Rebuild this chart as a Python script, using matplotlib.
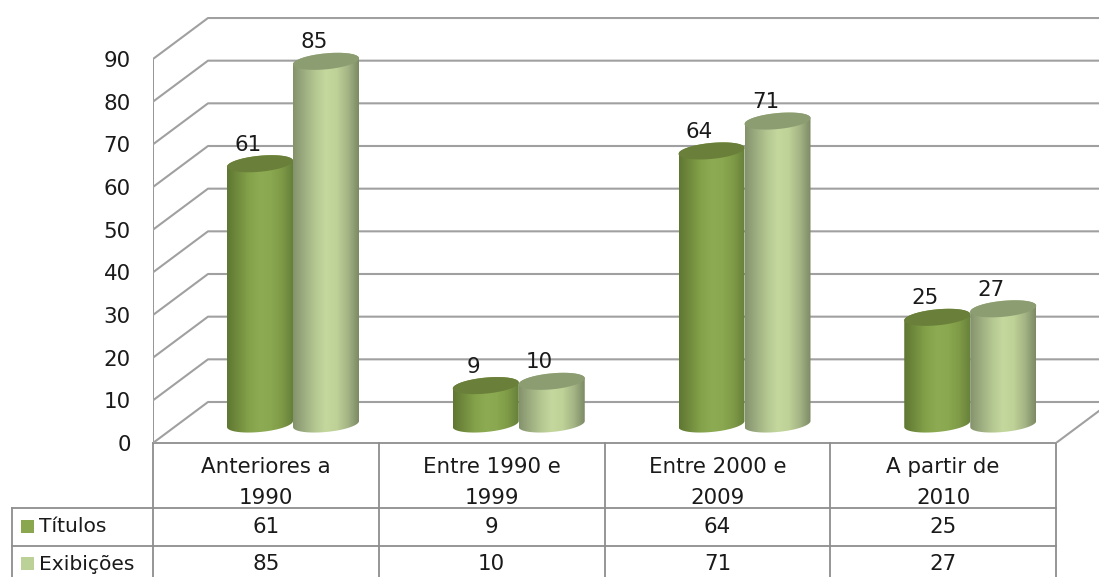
import numpy as np
import matplotlib.pyplot as plt
from matplotlib.colors import LinearSegmentedColormap
from matplotlib.patches import Polygon, Rectangle

plt.rcParams['font.family'] = ['DejaVu Sans']

categories = ['Anteriores a\n1990', 'Entre 1990 e\n1999', 'Entre 2000 e\n2009', 'A partir de\n2010']
series_names = ['Títulos', 'Exibições']
titulos = [61, 9, 64, 25]
exibicoes = [85, 10, 71, 27]
yticks = [0, 10, 20, 30, 40, 50, 60, 70, 80, 90]

W, H = 1099, 577
grid_col = '#a0a0a0'
table_col = '#8e8e8e'
text_col = '#1a1a1a'
fs = 15.4

# bar styles: swatch, top ellipse, side gradient
swatch = ['#8aa64e', '#bcd197']
top_col = ['#6a7f3a', '#8c9d72']
side = [['#5f7732', '#728c3e', '#84a24a', '#8dab52', '#8aa84f', '#7e9a46', '#66803a'],
        ['#85936d', '#9dad80', '#b4c791', '#c4d89e', '#bed197', '#a5b585', '#7d8a65']]

fig = plt.figure(figsize=(W / 100, H / 100), dpi=100)

# table and legend in pixel coordinates
tab = fig.add_axes([0, 0, 1, 1])
tab.set_xlim(0, W)
tab.set_ylim(H, 0)
tab.axis('off')

col_x = np.linspace(153, 1056, len(categories) + 1)
col_mid = (col_x[:-1] + col_x[1:]) / 2
row_y = [443, 508, 546]
tab.plot([153, 1056], [row_y[0]] * 2, color=table_col, lw=1.3)
for y in row_y[1:]:
    tab.plot([12, 1056], [y, y], color=table_col, lw=1.3)
for x in col_x:
    tab.plot([x, x], [443, H], color=table_col, lw=1.3)
tab.plot([12, 12], [508, H], color=table_col, lw=1.3)

for x, c in zip(col_mid, categories):
    a, b = c.split('\n')
    tab.text(x, 467, a, ha='center', va='center', fontsize=fs, color=text_col)
    tab.text(x, 498, b, ha='center', va='center', fontsize=fs, color=text_col)

for r, (name, vals) in enumerate(zip(series_names, [titulos, exibicoes])):
    yc = [527, 564][r]
    tab.add_patch(Rectangle((21, yc - 7), 13, 13, color=swatch[r], lw=0))
    tab.text(39, yc, name, ha='left', va='center', fontsize=fs - 0.8, color=text_col)
    for x, v in zip(col_mid, vals):
        tab.text(x, yc, str(v), ha='center', va='center', fontsize=fs, color=text_col)

# main plot, x in categories, y in values
px_per_cat = (col_x[1] - col_x[0])
px_per_val = (443 - 59) / 90
ax = fig.add_axes([153 / W, (H - 443) / H, (W - 153) / W, (443 - 17) / H])
ax.patch.set_alpha(0)
ax.set_xlim(0, (W - 153) / px_per_cat)
ax.set_ylim(0, (443 - 17) / px_per_val)
for s in ax.spines.values():
    s.set_visible(False)
ax.set_xticks([])
ax.set_yticks(yticks)
ax.tick_params(axis='y', length=0, pad=16, labelsize=fs, labelcolor=text_col)

dx = 55 / px_per_cat
dy = 41 / px_per_val
xmax = ax.get_xlim()[1]
ax.plot([0, 0], [0, 90], color=table_col, lw=1.3, zorder=1)
for t in yticks:
    ax.plot([0, dx, xmax], [t, t + dy, t + dy], color=grid_col, lw=1.5, zorder=1)
ax.plot([4, xmax], [0, (xmax - 4) / dx * dy], color=grid_col, lw=1.5, zorder=1)

bar_w = 66 / px_per_cat
bar_left = (227 - 153) / px_per_cat
base = 19 / px_per_val
ell_h = 8 / px_per_val
tilt = 3 / px_per_val
theta = np.linspace(0, 2 * np.pi, 100)


def ellipse(cx, cy, th=theta):
    return (cx + bar_w / 2 * np.cos(th),
            cy + ell_h * np.sin(th) + tilt * np.cos(th))


def cylinder(cx, value, s, z):
    top = base + value
    xb, yb = ellipse(cx, base, np.linspace(np.pi, 2 * np.pi, 50))
    xt, yt = ellipse(cx, top, np.linspace(0, np.pi, 50))
    body = Polygon(np.column_stack([np.r_[xb, xt], np.r_[yb, yt]]), closed=True,
                   transform=ax.transData, fc='none', ec='none')
    ax.add_patch(body)
    cmap = LinearSegmentedColormap.from_list('c', side[s])
    im = ax.imshow(np.linspace(0, 1, 128)[None, :], cmap=cmap, aspect='auto',
                   extent=(cx - bar_w / 2, cx + bar_w / 2, 0, top + ell_h + tilt),
                   zorder=z)
    im.set_clip_path(body)
    xe, ye = ellipse(cx, top)
    ax.fill(xe, ye, color=top_col[s], lw=0, zorder=z + 0.1)
    ax.text(cx - 12 / px_per_cat, top + 19 / px_per_val, str(value), ha='center',
            va='center', fontsize=fs, color=text_col, zorder=z + 0.2)


for i in range(len(categories)):
    cylinder(i + bar_left + bar_w / 2, titulos[i], 0, 3)
    cylinder(i + bar_left + bar_w * 1.5, exibicoes[i], 1, 4)

ax.set_xlim(0, (W - 153) / px_per_cat)
ax.set_ylim(0, (443 - 17) / px_per_val)

fig.savefig('out.png', dpi=100)
